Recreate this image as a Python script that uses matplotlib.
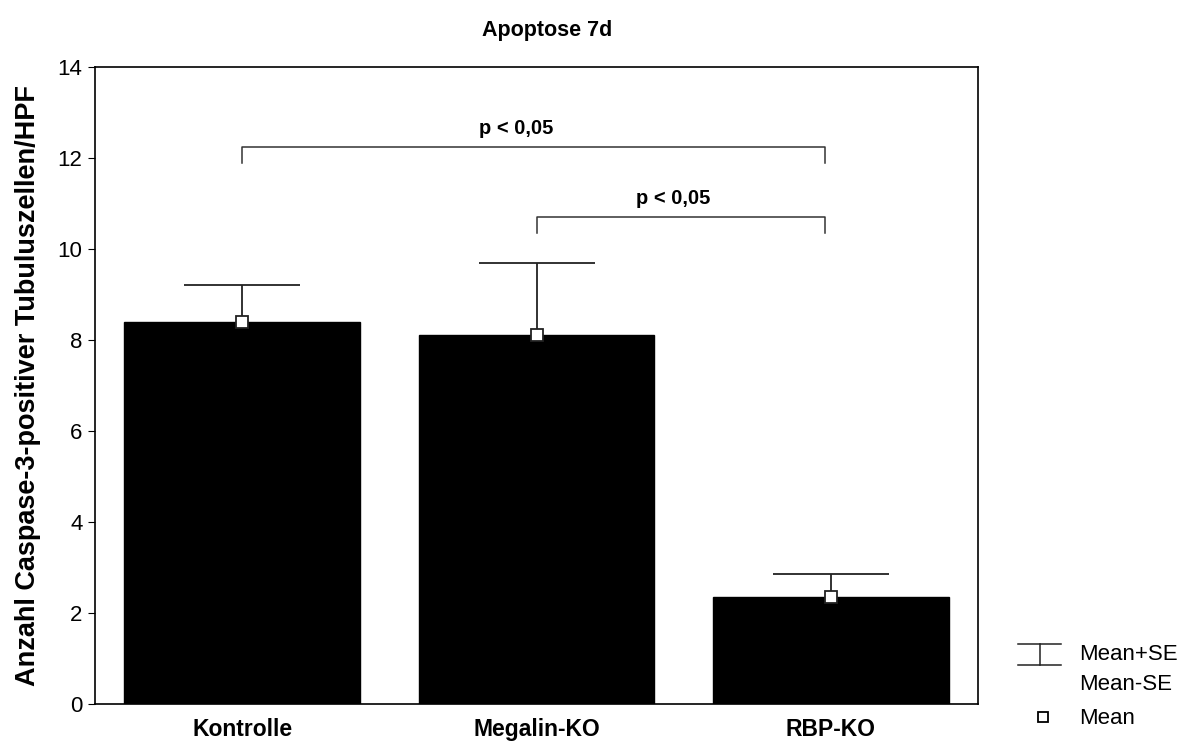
import matplotlib
matplotlib.use("Agg")
import matplotlib.pyplot as plt
from matplotlib.lines import Line2D
import numpy as np

plt.rcParams["font.family"] = ["Liberation Sans", "DejaVu Sans"]

groups = ["Kontrolle", "Megalin-KO", "RBP-KO"]
means = [8.4, 8.1, 2.35]
se = [0.8, 1.6, 0.5]

# significance brackets: (left group, right group, bar height, drop to, label)
brackets = [
    (0, 2, 12.25, 11.9, "p < 0,05"),
    (1, 2, 10.7, 10.35, "p < 0,05"),
]

W, H = 1187, 742
fig = plt.figure(figsize=(W / 100, H / 100), dpi=100)
ax = fig.add_axes([95 / W, 1 - 704 / H, (978 - 95) / W, (704 - 67) / H])

x = np.arange(len(groups))
ax.bar(x, means, width=0.8, color="black", edgecolor="black", zorder=3)

# SE whiskers sit behind the bars so only the upper half shows
ax.errorbar(x, means, yerr=se, fmt="none", ecolor="#222222", elinewidth=1.3,
            capsize=42, capthick=1.3, zorder=2)
ax.plot(x, means, linestyle="none", marker="s", markersize=9,
        markerfacecolor="white", markeredgecolor="#222222",
        markeredgewidth=1.3, zorder=4)

for i, j, top, drop, label in brackets:
    left, right = i, j - 0.02
    ax.plot([left, left, right, right], [drop, top, top, drop],
            color="#333333", lw=1.1, zorder=2)
    ax.text((i + j) / 2 - 0.035 * (j - i), top + 0.2, label, ha="center",
            va="bottom", fontsize=14.5, fontweight="bold")

ax.set_xlim(-0.5, 2.5)
ax.set_ylim(0, 14)
ax.set_yticks(range(0, 15, 2))
ax.set_xticks(x)
ax.set_xticklabels(groups, fontsize=16.5, fontweight="bold")
ax.tick_params(axis="x", length=0, pad=10)
ax.tick_params(axis="y", length=5, width=0.8, labelsize=16, pad=4)
for s in ax.spines.values():
    s.set_linewidth(1.2)

ax.set_ylabel("Anzahl Caspase-3-positiver Tubuluszellen/HPF", fontsize=19.5,
              fontweight="bold", labelpad=12)
ax.set_title("Apoptose 7d", fontsize=15.5, fontweight="bold", pad=22, x=0.512)

# legend drawn beside the axes in figure pixels
def fx(px):
    return px / W

def fy(py):
    return 1 - py / H

for py in (644, 665):
    fig.add_artist(Line2D([fx(1018), fx(1061)], [fy(py), fy(py)],
                          color="#222222", lw=1.1))
fig.add_artist(Line2D([fx(1040), fx(1040)], [fy(644), fy(665)],
                      color="#222222", lw=1.1))
fig.add_artist(Line2D([fx(1043)], [fy(717)], marker="s", markersize=7.5,
                      markerfacecolor="white", markeredgecolor="black",
                      markeredgewidth=1.3, linestyle="none"))
for py, txt in ((655, "Mean+SE"), (684, "Mean-SE"), (718, "Mean")):
    fig.text(fx(1079), fy(py), txt, fontsize=16, va="center", ha="left")

fig.savefig("out.png", dpi=100)
